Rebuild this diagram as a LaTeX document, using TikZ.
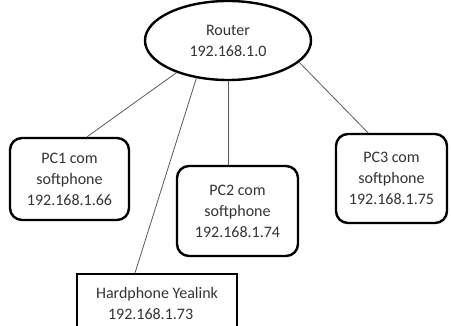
\documentclass[tikz,border=0pt]{standalone}
\usepackage{fontspec}
\setmainfont{Carlito}
\usepackage{tikz}
\usetikzlibrary{shapes.geometric}

\begin{document}
\begin{tikzpicture}[x=1pt,y=-1pt]
            \tikzstyle{every node}=[font=\fontsize{16}{21}\selectfont, text=black!80, align=center, inner sep=0pt]
            \tikzstyle{pcbox}=[draw, line width=2.4pt, rounded corners=12pt]
            \tikzstyle{link}=[draw=black!65, line width=0.8pt]

            \useasboundingbox (0,0) rectangle (451,326);

            \node[ellipse, draw, line width=2.4pt, minimum width=166, minimum height=79] (router) at (228, 40.5) {Router\\192.168.1.0};

            \node[pcbox, minimum width=119, minimum height=82] (pc1) at (69.5, 179) {PC1 com\\softphone\\192.168.1.66};
            \node[pcbox, minimum width=121, minimum height=90] (pc2) at (237.5, 211) {PC2 com\\softphone\\192.168.1.74};
            \node[pcbox, minimum width=111, minimum height=89] (pc3) at (391.5, 178.5) {PC3 com\\softphone\\192.168.1.75};

            \node[draw, line width=2.4pt, minimum width=160, minimum height=59, align=left, anchor=north] (yealink) at (157, 273) {Hardphone Yealink\\\hspace*{12pt}192.168.1.73};

            \path[link]
            (router.212) edge ([xshift=17.5]pc1.north)
            (router.south) edge (router.south |- pc2.north)
            (router.343) edge ([xshift=-23.5]pc3.north)
            (router.230) edge ([xshift=-22]yealink.north);

          \end{tikzpicture}
\end{document}
